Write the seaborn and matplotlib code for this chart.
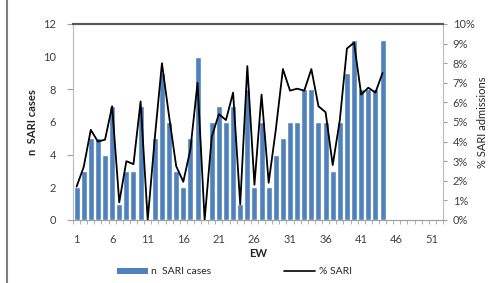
import numpy as np
import pandas as pd
import matplotlib
matplotlib.use("Agg")
import matplotlib.pyplot as plt
from matplotlib.lines import Line2D
from matplotlib.patches import Patch
import seaborn as sns

# epidemiological weeks with data
weeks = list(range(1, 45))
sari_cases = [2, 3, 5, 5, 4, 7, 1, 3, 3, 7,
              0, 5, 9, 6, 3, 2, 5, 10, 0, 6,
              7, 6, 7, 1, 8, 2, 6, 2, 4, 5,
              6, 6, 8, 8, 6, 6, 3, 6, 9, 11,
              8, 8, 8, 11]
pct_sari = [1.7, 2.7, 4.6, 4.0, 4.1, 5.8, 0.9, 3.0, 2.85, 6.05,
            0.0, 4.2, 8.0, 5.3, 2.75, 1.95, 3.6, 7.0, 0.0, 4.25,
            5.4, 5.1, 6.5, 0.8, 7.85, 1.8, 6.4, 1.9, 4.6, 7.7,
            6.6, 6.7, 6.6, 7.7, 5.8, 5.5, 2.8, 5.1, 8.75, 9.05,
            6.4, 6.75, 6.5, 7.5]
x_labels = [1, 6, 11, 16, 21, 26, 31, 36, 41, 46, 51]

BLUE = '#4F81BD'

df = pd.DataFrame({'EW': weeks, 'cases': sari_cases, 'pct': pct_sari})

sns.set_style('white')
plt.rcParams['font.family'] = ['Lato', 'DejaVu Sans']

fig = plt.figure(figsize=(4.94, 2.83), dpi=100)
ax = fig.add_axes([73 / 494, 1 - 220 / 283, 370 / 494, 196 / 283])

sns.barplot(data=df, x='EW', y='cases', native_scale=True, color=BLUE,
            saturation=1, width=0.84, ax=ax)

ax2 = ax.twinx()
sns.lineplot(data=df, x='EW', y='pct', color='black', lw=1.3, ax=ax2)

ax.set_xlim(0.5, 52.5)
ax.set_ylim(0, 12)
ax2.set_ylim(0, 10)

# x axis: labels every 5 weeks, tick marks between every week
ax.set_xticks(x_labels)
ax.set_xticklabels([str(v) for v in x_labels], fontsize=8, color='#404040')
ax.set_xticks(np.arange(0.5, 53, 1), minor=True)
ax.tick_params(axis='x', which='major', length=0, pad=10)
ax.tick_params(axis='x', which='minor', length=3, color='#A0A0A0', bottom=True)

# left axis
ax.set_yticks([0, 4, 8, 12])
ax.set_yticklabels(['0', '4', '8', '12'], fontsize=8, color='#404040')
ax.set_yticks([2, 6, 10], minor=True)
ax.set_yticklabels(['2', '6', '10'], minor=True, fontsize=8, color='#404040')
ax.tick_params(axis='y', which='major', length=4, color='#A0A0A0', left=True, pad=8)
ax.tick_params(axis='y', which='minor', length=0, left=True, pad=12)

# right axis
ax2.set_yticks(range(0, 11))
ax2.set_yticklabels([f'{v}%' for v in range(0, 11)], fontsize=8, color='#404040')
ax2.tick_params(axis='y', length=3, color='#A0A0A0', right=True, pad=4)

ax.set_xlabel('EW', fontsize=8, fontweight='bold', labelpad=2)
ax.set_ylabel('n  SARI cases', fontsize=8, fontweight='bold', labelpad=4)
ax2.set_ylabel('% SARI admissions', fontsize=8, labelpad=2)

for a in (ax, ax2):
    a.spines['left'].set_color('#BFBFBF')
    a.spines['right'].set_color('#BFBFBF')
    a.spines['bottom'].set_color('#A0A0A0')
    a.spines['top'].set_color('#595959')
    a.spines['top'].set_linewidth(1.5)

handles = [Patch(facecolor=BLUE, edgecolor='none'),
           Line2D([0], [0], color='black', lw=1.2)]
fig.legend(handles, ['n  SARI cases', '% SARI'], loc='center',
           bbox_to_anchor=(0.474, 1 - 272 / 283), ncol=2, frameon=False,
           fontsize=7.5, handlelength=3.0, handleheight=0.6,
           columnspacing=7, handletextpad=0.3)

# grey frame line on the left edge of the picture
fig.add_artist(Line2D([7 / 494, 7 / 494], [0, 1], color='#808080', lw=1.5))

fig.savefig('out.png', dpi=100)
